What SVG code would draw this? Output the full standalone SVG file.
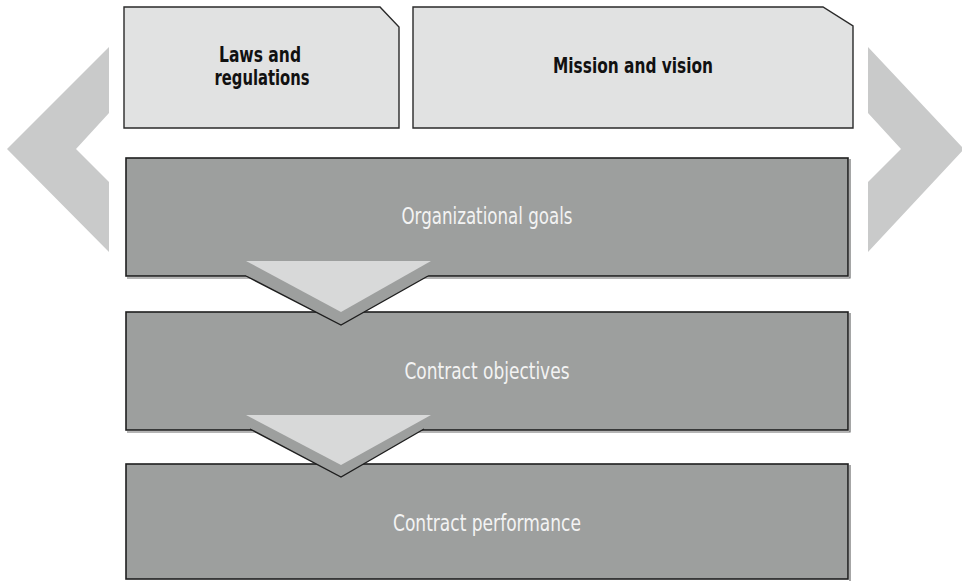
<svg xmlns="http://www.w3.org/2000/svg" width="962" height="581" viewBox="0 0 962 581">
<style>
.top{fill:#e1e2e2;stroke:#2a2a2a;stroke-width:1.4}
.big{fill:#9d9f9e;stroke:#1e1e1e;stroke-width:1.6}
.shadow{fill:none;stroke:#6a6b6b;stroke-width:1.2}
.chev{fill:#c9caca}
.tb{font-family:"Liberation Sans Narrow","DejaVu Sans Condensed","Roboto Condensed","Liberation Sans",sans-serif;font-weight:bold;font-size:22px;fill:#111;text-anchor:middle}
.tw{font-family:"Liberation Sans Narrow","DejaVu Sans Condensed","Roboto Condensed","Roboto",sans-serif;font-size:23px;fill:#f3f3f3;text-anchor:middle}
.arrGray{fill:#9d9f9e;stroke:none}
.arrEdge{fill:none;stroke:#1e1e1e;stroke-width:1.4;stroke-linejoin:miter}
.arrLight{fill:#d8d9d9}
</style>
<rect width="962" height="581" fill="#ffffff"/>
<g id="chevron-left">
<polygon class="chev" points="109,47 109,113 76,149 109,182 109,252 7,149"/>
</g>
<g id="chevron-right">
<polygon class="chev" points="868,47 868,113 901,149 868,182 868,252 964,149"/>
</g>
<g id="laws">
<path class="top" d="M124,7 H380 L399,27 V128 H124 Z"/>
<text class="tb" x="260" y="62" textLength="82" lengthAdjust="spacingAndGlyphs">Laws and</text>
<text class="tb" x="262" y="85" textLength="95" lengthAdjust="spacingAndGlyphs">regulations</text>
</g>
<g id="mission">
<path class="top" d="M413,7 H823 L853,26 V128 H413 Z"/>
<text class="tb" x="633" y="73" textLength="160" lengthAdjust="spacingAndGlyphs">Mission and vision</text>
</g>
<g id="org-goals">
<polyline class="shadow" points="850,159 850,278 127,278"/>
<rect class="big" x="126" y="158" width="722" height="118"/>
<text class="tw" x="487" y="224" textLength="171" lengthAdjust="spacingAndGlyphs">Organizational goals</text>
</g>
<g id="contract-objectives">
<polyline class="shadow" points="850,313 850,432 127,432"/>
<rect class="big" x="126" y="312" width="722" height="118"/>
<text class="tw" x="487" y="379" textLength="165" lengthAdjust="spacingAndGlyphs">Contract objectives</text>
</g>
<g id="contract-performance">
<polyline class="shadow" points="850,465 850,581"/>
<rect class="big" x="126" y="464" width="722" height="115"/>
<text class="tw" x="487" y="531" textLength="188" lengthAdjust="spacingAndGlyphs">Contract performance</text>
</g>
<g id="connectors">
<g id="arrow-1">
<polygon class="arrGray" points="246,262 431,262 428,276 341,325 246,276"/>
<polyline class="arrEdge" points="246,276 341,325 428,276"/>
<polygon class="arrLight" points="246,261 431,261 341,312"/>
</g>
<g id="arrow-2">
<polygon class="arrGray" points="246,416 431,416 424,429 341,477 250,429"/>
<polyline class="arrEdge" points="250,429 341,477 424,429"/>
<polygon class="arrLight" points="246,415 431,415 341,465"/>
</g>
</g>
</svg>
